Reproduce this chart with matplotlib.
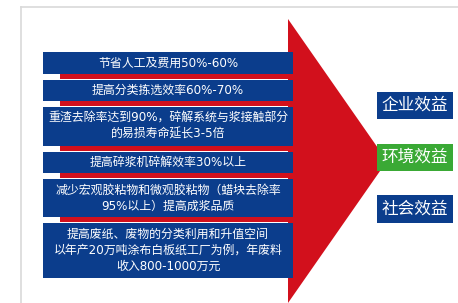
import matplotlib.pyplot as plt
from matplotlib.patches import Rectangle, Polygon

plt.rcParams['font.family'] = ['Noto Sans CJK SC', 'DejaVu Sans']

# left side items
left_texts = [
    '节省人工及费用50%-60%',
    '提高分类拣选效率60%-70%',
    '重渣去除率达到90%，碎解系统与浆接触部分\n的易损寿命延长3-5倍',
    '提高碎浆机碎解效率30%以上',
    '减少宏观胶粘物和微观胶粘物（蜡块去除率\n95%以上）提高成浆品质',
    '提高废纸、废物的分类利用和升值空间\n以年产20万吨涂布白板纸工厂为例，年废料\n收入800-1000万元',
]
# right side items
right_texts = ['企业效益', '环境效益', '社会效益']

blue = '#0b3d8c'
red = '#d2101c'
green = '#3aa935'
right_colors = [blue, green, blue]

# box layout (pixel coords, y down)
left_boxes = [(52, 74), (80, 101), (107, 146), (152, 173), (179, 217), (223, 278)]
right_boxes = [(92, 119), (144, 171), (195, 223)]

fig = plt.figure(figsize=(4.58, 3.03), dpi=100)
ax = fig.add_axes([0, 0, 1, 1])
ax.set_xlim(0, 458)
ax.set_ylim(303, 0)
ax.set_axis_off()

# light frame
ax.plot([21, 21], [7, 303], color='#d9d9d9', lw=1.2)
ax.plot([21, 458], [7, 7], color='#d9d9d9', lw=1.2)

# red arrow
arrow = Polygon([(288, 19), (387, 161), (288, 303)], closed=True,
                facecolor=red, edgecolor='none', zorder=1)
ax.add_patch(arrow)

# red stripes under boxes
for i, (top, bot) in enumerate(left_boxes[:-1]):
    nxt = left_boxes[i + 1][0]
    ax.add_patch(Rectangle((60, bot), 290 - 60, (nxt - bot) - 1,
                           facecolor=red, edgecolor='none', zorder=1))

# left blue boxes
for (top, bot), txt in zip(left_boxes, left_texts):
    ax.add_patch(Rectangle((43, top), 293 - 43, bot - top,
                           facecolor=blue, edgecolor='none', zorder=2))
    ax.text(168, (top + bot) / 2, txt, color='white', fontsize=8.6,
            family=['DejaVu Sans', 'Noto Sans CJK SC'],
            ha='center', va='center', linespacing=1.3, zorder=3)

# right boxes
for (top, bot), txt, c in zip(right_boxes, right_texts, right_colors):
    ax.add_patch(Rectangle((377, top), 453 - 377, bot - top,
                           facecolor=c, edgecolor='none', zorder=2))
    ax.text(415, (top + bot) / 2, txt, color='white', fontsize=12,
            ha='center', va='center', zorder=3)

fig.savefig('out.png', dpi=100)
